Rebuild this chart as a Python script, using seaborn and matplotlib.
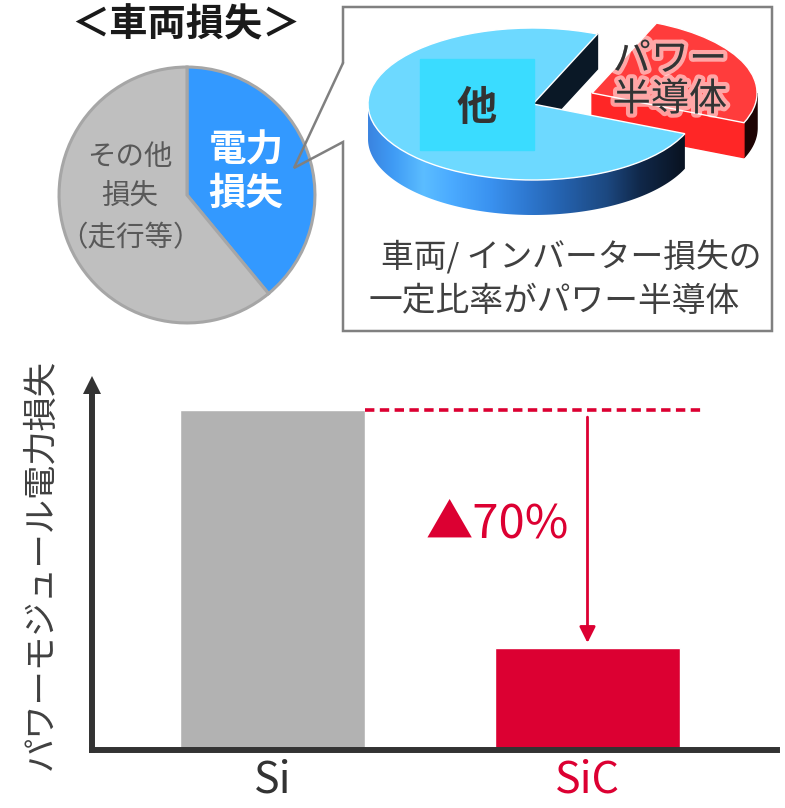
"""
車両損失 / インバーター損失 / パワーモジュール電力損失 (Si vs SiC)
"""
import numpy as np
import pandas as pd
import matplotlib
matplotlib.use("Agg")
import matplotlib.pyplot as plt
import matplotlib.patheffects as pe
from matplotlib.colors import LinearSegmentedColormap
from matplotlib.patches import Polygon, Rectangle
import seaborn as sns

sns.set_theme(style="white")
plt.rcParams["font.family"] = ["Noto Sans CJK JP", "DejaVu Sans"]

# 車両損失 (左の円グラフ)
loss_labels = ["電力損失", "その他損失"]
loss_share = [39, 61]
# インバーター損失 (3D円グラフ)
inv_labels = ["パワー半導体", "他"]
inv_share = [25, 75]
# パワーモジュール電力損失
devices = ["Si", "SiC"]
module_loss = [100, 30]

RED = "#DC0032"
W, H = 785, 808
fig = plt.figure(figsize=(W / 100, H / 100), dpi=100)


def px_axes(l, t, r, b):
    return fig.add_axes([l / W, 1 - b / H, (r - l) / W, (b - t) / H])


# ---- 棒グラフ ----
ax = px_axes(92, 385, 777, 750)
df = pd.DataFrame({"device": devices, "loss": module_loss})
bar_w = 0.587
sns.barplot(data=df, x="device", y="loss", hue="device",
            palette=["#B2B2B2", RED], width=bar_w, saturation=1,
            legend=False, ax=ax)
ax.set_xlim(-0.573, 1.6016)
ax.set_ylim(0, module_loss[0] * 365 / 340)
ax.set_xlabel("")
ax.set_ylabel("")
ax.set_yticks([])
ax.patch.set_alpha(0)
for s in ["top", "right"]:
    ax.spines[s].set_visible(False)
for s in ["left", "bottom"]:
    ax.spines[s].set_color("#333333")
    ax.spines[s].set_linewidth(4.3)
ax.tick_params(axis="x", length=0, pad=6, labelsize=31)
for lbl, c in zip(ax.get_xticklabels(), ["#333333", RED]):
    lbl.set_color(c)
# y軸の矢印
ax.plot([ax.get_xlim()[0]], [ax.get_ylim()[1]], marker="^", ms=13,
        mew=0, color="#333333", clip_on=False)

ax.hlines(module_loss[0], bar_w / 2, 1.373, colors=RED, lw=2.6,
          linestyles=(0, (2.6, 1.5)))
ax.annotate("", xy=(1, module_loss[1] + 1.5), xytext=(1, module_loss[0] - 2.1),
            arrowprops=dict(arrowstyle="-|>", color=RED, lw=2,
                            mutation_scale=24, shrinkA=0, shrinkB=0))
drop = round((1 - module_loss[1] / module_loss[0]) * 100)
ax.text(0.7127, 66.5, f"▲{drop}%", ha="center", va="center",
        fontsize=34, color=RED)

fig.text(41 / W, 1 - 564 / H, "パワーモジュール電力損失", rotation=90,
         ha="center", va="center", fontsize=24.7, color="#404040")

# ---- 車両損失の円グラフ ----
axp = px_axes(47, 55, 327, 335)
axp.pie(loss_share, colors=["#3399FF", "#BFBFBF"], startangle=90,
        counterclock=False, radius=0.914,
        wedgeprops=dict(edgecolor="#A6A6A6", linewidth=2.2))
axp.set_xlim(-1, 1)
axp.set_ylim(-1, 1)
axp.patch.set_alpha(0)

# ---- インバーター損失の3D円グラフ ----
CX, CY, A, B = 533, 104, 165, 76
ax3 = px_axes(345, 10, 770, 230)
wedges, _ = ax3.pie(inv_share, colors=["#FF3C3C", "#6DD9FF"], startangle=-23,
                    counterclock=True, explode=[0.386, 0], radius=1)
ax3.set_aspect("auto")
ax3.axis("off")
ax3.patch.set_alpha(0)
depth = 35 / B


def outer_side(w):
    t = np.radians(np.linspace(w.theta1, w.theta2, 300))
    t = t[np.sin(t) <= 0]
    cx, cy = w.center
    x = cx + w.r * np.cos(t)
    y = cy + w.r * np.sin(t)
    return np.column_stack([np.r_[x, x[::-1]], np.r_[y, y[::-1] - depth]])


def cut_face(w, theta):
    cx, cy = w.center
    t = np.radians(theta)
    ex, ey = cx + w.r * np.cos(t), cy + w.r * np.sin(t)
    return [(cx, cy), (ex, ey), (ex, ey - depth), (cx, cy - depth)]


red_w, blue_w = wedges
red_w.set_zorder(2)
blue_w.set_zorder(4)
ax3.add_patch(Polygon(outer_side(red_w), closed=True, color="#1E0404", zorder=1))
ax3.add_patch(Polygon(cut_face(red_w, red_w.theta1), closed=True,
                      color="#FF2626", zorder=1))
ax3.add_patch(Polygon(cut_face(blue_w, blue_w.theta1), closed=True,
                      color="#0A1826", zorder=2.5))

stops = [(0.0, "#3A84E0"), (0.075, "#3F9BF5"), (0.167, "#5BBDFF"),
         (0.255, "#4AAAFF"), (0.37, "#3A92F0"), (0.482, "#2E78D0"),
         (0.582, "#2563B0"), (0.725, "#1C4880"), (0.825, "#10284A"),
         (0.945, "#0A1525"), (1.0, "#081020")]
side_cmap = LinearSegmentedColormap.from_list("side", stops)
side = Polygon(outer_side(blue_w), closed=True, facecolor="none",
               edgecolor="none", zorder=3)
ax3.add_patch(side)
im = ax3.imshow(np.linspace(0, 1, 256)[None, :], cmap=side_cmap, aspect="auto",
                extent=[-1, 1, -1.6, 0.2], zorder=3)
im.set_clip_path(side)
ax3.set_xlim((345 - CX) / A, (770 - CX) / A)
ax3.set_ylim((CY - 230) / B, (CY - 10) / B)

# ---- 注記・吹き出し (ピクセル座標) ----
axo = fig.add_axes([0, 0, 1, 1], zorder=10)
axo.set_xlim(0, W)
axo.set_ylim(H, 0)
axo.axis("off")
axo.patch.set_alpha(0)

box_x = [343, 343, 772, 772, 343, 343, 294, 343]
box_y = [63, 7, 7, 331, 331, 142, 168, 63]
axo.plot(box_x, box_y, color="#808080", lw=1.8, solid_joinstyle="miter")

axo.add_patch(Rectangle((420, 59), 114, 91, color="#3ADCFF", zorder=1))
axo.text(477, 108, "他", ha="center", va="center", fontsize=29,
         fontweight="bold", color="#333333", zorder=2)
glow = [pe.withStroke(linewidth=6, foreground=(1, 1, 1, 0.55))]
for txt, y in zip(["パワー", "半導体"], [60, 100]):
    axo.text(670, y, txt, ha="center", va="center", fontsize=27.5,
             color="#333333", path_effects=glow)
axo.text(571, 257, "車両/ インバーター損失の", ha="center", va="center",
         fontsize=23.6, color="#404040")
axo.text(554, 302, "一定比率がパワー半導体", ha="center", va="center",
         fontsize=24.3, color="#404040")

axo.text(186, 25, "＜車両損失＞", ha="center", va="center", fontsize=27.5,
         fontweight="bold", color="#1A1A1A")
for txt, y in zip(["電力", "損失"], [150, 193]):
    axo.text(246, y, txt, ha="center", va="center", fontsize=27,
             fontweight="bold", color="white")
for txt, y in zip(["その他", "損失", "（走行等）"], [157, 197, 238]):
    axo.text(130, y, txt, ha="center", va="center", fontsize=20.5,
             color="#595959")

fig.savefig("out.png", dpi=100)
